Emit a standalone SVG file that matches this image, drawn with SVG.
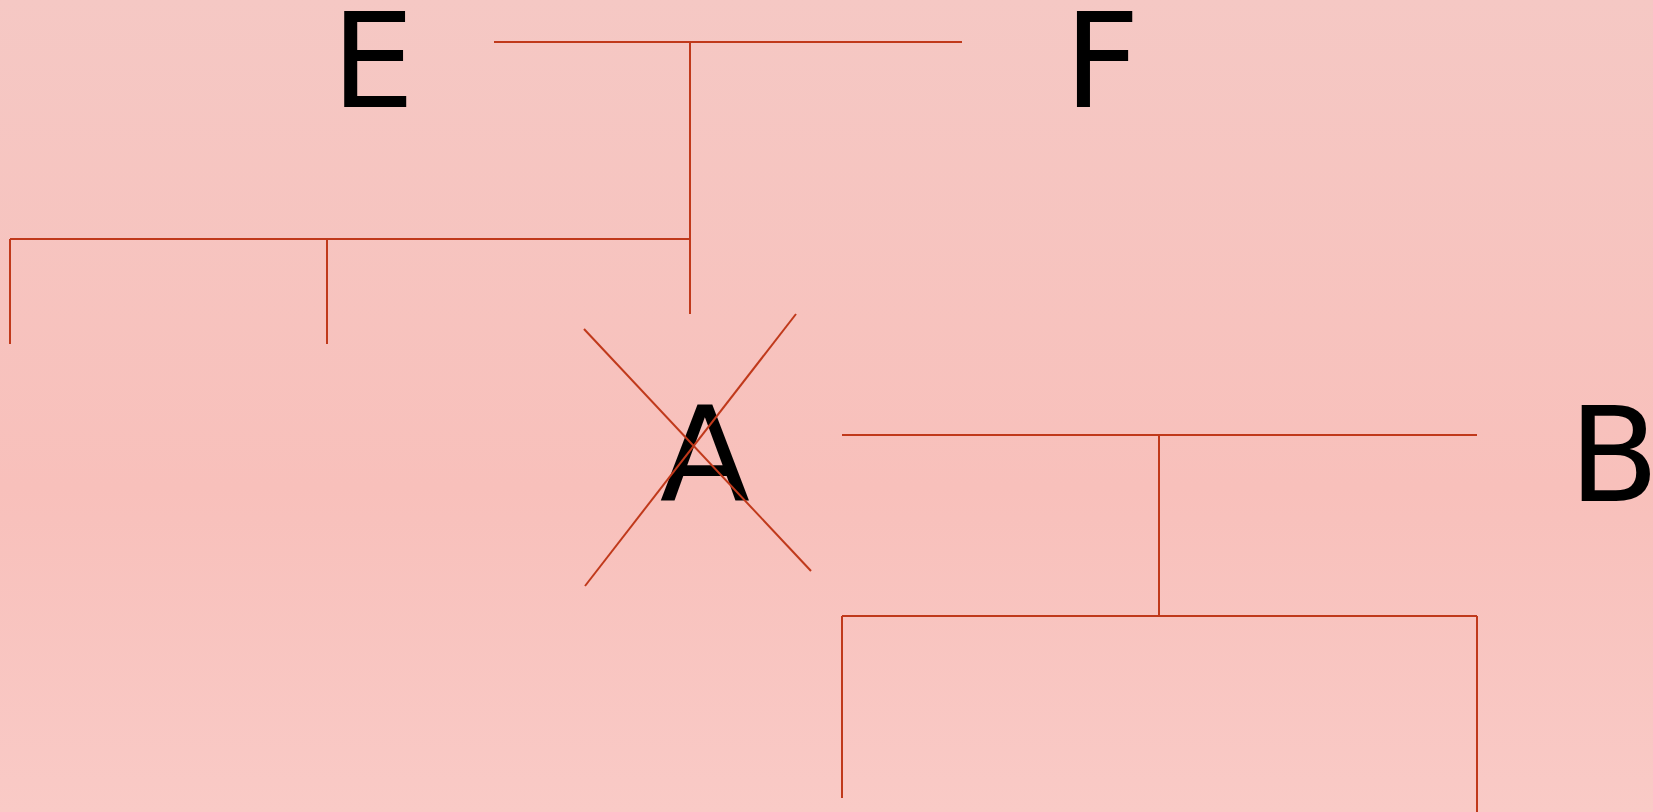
<svg xmlns="http://www.w3.org/2000/svg" width="1653" height="812" viewBox="0 0 1653 812">
<defs>
<linearGradient id="bg" x1="0" y1="0" x2="0" y2="1">
<stop offset="0" stop-color="#f5c8c4"/>
<stop offset="0.6" stop-color="#f8c0bb"/>
<stop offset="1" stop-color="#f9cac6"/>
</linearGradient>
<style>
.ln{stroke:#c0391b;stroke-width:2;fill:none}
.lb{font-family:"DejaVu Sans","Liberation Sans",sans-serif;font-size:132px;fill:#000;text-anchor:middle}
</style>
</defs>
<rect x="0" y="0" width="1653" height="812" fill="url(#bg)"/>
<g id="connectors">
<line class="ln" x1="494" y1="42" x2="962" y2="42"/>
<line class="ln" x1="690" y1="42" x2="690" y2="314"/>
<line class="ln" x1="10" y1="239" x2="690" y2="239"/>
<line class="ln" x1="10" y1="239" x2="10" y2="344"/>
<line class="ln" x1="327" y1="239" x2="327" y2="344"/>
<line class="ln" x1="842" y1="435" x2="1477" y2="435"/>
<line class="ln" x1="1159" y1="435" x2="1159" y2="616"/>
<line class="ln" x1="842" y1="616" x2="1477" y2="616"/>
<line class="ln" x1="842" y1="616" x2="842" y2="798"/>
<line class="ln" x1="1477" y1="616" x2="1477" y2="812"/>
</g>
<g id="node-E"><text class="lb" x="373" y="107">E</text></g>
<g id="node-F"><text class="lb" x="1102" y="107">F</text></g>
<g id="node-A"><text class="lb" x="705" y="501">A</text>
<line class="ln" x1="584" y1="329" x2="811" y2="571"/>
<line class="ln" x1="585" y1="586" x2="796" y2="314"/>
</g>
<g id="node-B"><text class="lb" x="1614" y="501">B</text></g>
</svg>
